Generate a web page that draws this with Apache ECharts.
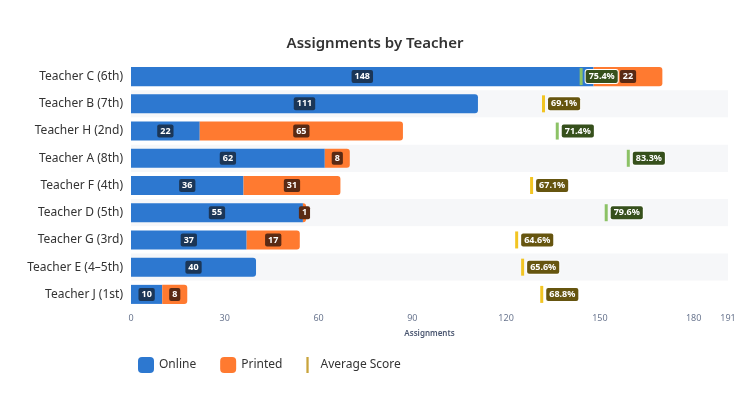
<!DOCTYPE html>
<html>
<head>
<meta charset="utf-8">
<script src="https://cdn.jsdelivr.net/npm/echarts@6/dist/echarts.min.js"></script>
<style>
  html, body { margin: 0; padding: 0; background: #fff; }
  #main { width: 750px; height: 410px; }
</style>
</head>
<body>
<div id="main"></div>
<script>
var teachers = ['Teacher C (6th)', 'Teacher B (7th)', 'Teacher H (2nd)', 'Teacher A (8th)', 'Teacher F (4th)',
    'Teacher D (5th)', 'Teacher G (3rd)', 'Teacher E (4\u20135th)', 'Teacher J (1st)'];
var onlineValues = [148, 111, 22, 62, 36, 55, 37, 40, 10];
var printedValues = [22, null, 65, 8, 31, 1, 17, null, 8];
var averageScores = [75.4, 69.1, 71.4, 83.3, 67.1, 79.6, 64.6, 65.6, 68.8];
var xTickMax = 191;

var FONT = 'Noto Sans';

function badge(bg) {
    return {
        show: true,
        position: 'inside',
        color: '#fff',
        fontFamily: FONT,
        fontSize: 9,
        fontWeight: 'bold',
        backgroundColor: bg,
        padding: [2, 3],
        borderRadius: 2
    };
}

var onlineData = onlineValues.map(function (v, i) {
    var item = { value: v };
    if (printedValues[i] == null) {
        item.itemStyle = { borderRadius: [0, 3, 3, 0] };
    }
    return item;
});

var scoreData = averageScores.map(function (v, i) {
    var good = v >= 70;
    return {
        value: [v, teachers[i]],
        itemStyle: { color: good ? '#8cc266' : '#f2c523', opacity: 1 },
        label: {
            backgroundColor: good ? '#36501c' : '#66550f'
        }
    };
});

var myChart = echarts.init(document.getElementById('main'));
var option = {
    title: {
        text: 'Assignments by Teacher',
        left: 'center',
        top: 31,
        textStyle: { fontFamily: FONT, fontSize: 15, fontWeight: 600, color: '#333' }
    },
    grid: { left: 131, right: 22, top: 63, bottom: 102 },
    legend: {
        left: 133,
        top: 352,
        itemWidth: 16,
        itemHeight: 16,
        itemGap: 24,
        textStyle: { fontFamily: FONT, fontSize: 12, color: '#333' },
        data: [
            { name: 'Online', icon: 'roundRect' },
            { name: 'Printed', icon: 'roundRect' },
            { name: 'Average Score', icon: 'path://M0,0h2v14h-2z', itemStyle: { color: '#c9a43c' } }
        ]
    },
    xAxis: [
        {
            type: 'value',
            min: 0,
            max: xTickMax,
            interval: 30,
            name: 'Assignments',
            nameLocation: 'middle',
            nameGap: 22,
            nameTextStyle: { fontFamily: FONT, fontSize: 8, fontWeight: 600, color: '#4a5670' },
            axisLine: { show: false },
            axisTick: { show: false },
            splitLine: { show: false },
            axisLabel: { fontFamily: FONT, fontSize: 9, color: '#6b7790', margin: 6 }
        },
        {
            type: 'value',
            min: 0,
            max: 100,
            show: false
        }
    ],
    yAxis: {
        type: 'category',
        data: teachers,
        inverse: true,
        axisLine: { show: false },
        axisTick: { show: false },
        axisLabel: { fontFamily: FONT, fontSize: 12, color: '#333', margin: 8 },
        splitArea: { show: true, areaStyle: { color: ['#ffffff', '#f6f7f9'] } }
    },
    series: [
        {
            name: 'Online',
            type: 'bar',
            stack: 'total',
            barWidth: '70%',
            itemStyle: { color: '#2d78d0' },
            label: badge('#1b3657'),
            data: onlineData
        },
        {
            name: 'Printed',
            type: 'bar',
            stack: 'total',
            barWidth: '70%',
            itemStyle: { color: '#ff7a30', borderRadius: [0, 3, 3, 0] },
            label: badge('#5a2a14'),
            data: printedValues
        },
        {
            name: 'Average Score',
            type: 'scatter',
            xAxisIndex: 1,
            symbol: 'rect',
            symbolSize: [3, 17],
            z: 5,
            itemStyle: { opacity: 1 },
            label: {
                show: true,
                position: 'right',
                distance: 3,
                formatter: function (p) { return p.value[0].toFixed(1) + '%'; },
                color: '#ffffff',
                opacity: 1,
                fontFamily: FONT,
                fontSize: 9,
                fontWeight: 'bold',
                padding: [2, 3],
                borderRadius: 2,
                borderColor: '#ffffff',
                borderWidth: 1
            },
            data: scoreData
        }
    ]
};
myChart.setOption(option);
</script>
</body>
</html>
